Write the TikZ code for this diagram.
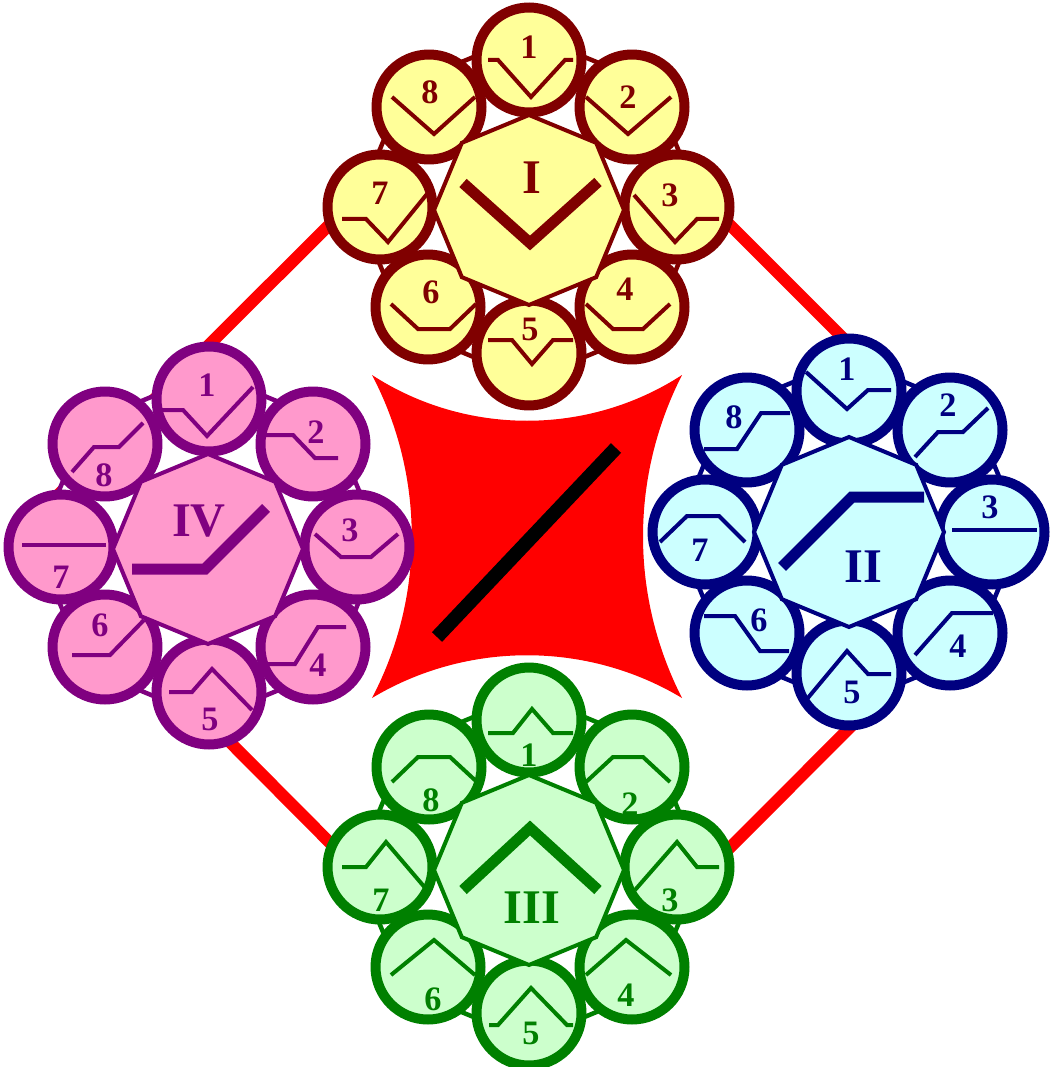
\documentclass[tikz,border=0pt]{standalone}
\usepackage{fontspec}
\setmainfont{Liberation Serif}
\usetikzlibrary{shapes.geometric}

\begin{document}
\begin{tikzpicture}[
    x=0.02cm, y=-0.02cm, % one unit is one pixel, y runs downwards
    % --- colours of the four quadrants ---
    iDark/.style={color={rgb,255:red,128;green,0;blue,0}},
    iLight/.style={fill={rgb,255:red,255;green,255;blue,153}},
    iiDark/.style={color={rgb,255:red,0;green,0;blue,128}},
    iiLight/.style={fill={rgb,255:red,204;green,255;blue,255}},
    iiiDark/.style={color={rgb,255:red,0;green,128;blue,0}},
    iiiLight/.style={fill={rgb,255:red,204;green,255;blue,204}},
    ivDark/.style={color={rgb,255:red,128;green,0;blue,128}},
    ivLight/.style={fill={rgb,255:red,255;green,153;blue,204}},
    % --- shapes ---
    outerRing/.style={draw, fill=white, shape=regular polygon, regular polygon sides=8, shape border rotate=22.5, minimum size=6.92cm, inner sep=0pt, line width=0.09cm},
    hub/.style={draw, shape=regular polygon, regular polygon sides=8, shape border rotate=22.5, minimum size=3.8cm, inner sep=0pt, line width=0.08cm},
    petal/.style={draw, circle, minimum size=2.1cm, inner sep=0pt, line width=0.2cm},
    % --- lines and labels ---
    glyph/.style={line width=0.08cm},
    bigGlyph/.style={line width=0.22cm},
    numLabel/.style={font=\bfseries\fontsize{19.5}{20}\selectfont, inner sep=0pt},
    romanLabel/.style={font=\bfseries\fontsize{27.5}{28}\selectfont, inner sep=0pt},
    redFrame/.style={draw={rgb,255:red,255;green,0;blue,0}, line width=0.24cm}
]
    \useasboundingbox (0,0) rectangle (1060,1067);

    % ===========================
    % 1. BACKGROUND: DIAMOND AND CENTRE TILE
    % ===========================
    \coordinate (dTop)    at (530,25);
    \coordinate (dRight)  at (1041,536);
    \coordinate (dBottom) at (532,1046);
    \coordinate (dLeft)   at (21,532);
    \draw[redFrame] (dTop) -- (dRight) -- (dBottom) -- (dLeft) -- cycle;

    % tile with hollow sides (arcs written as cubic curves)
    \fill[red] (372,375) .. controls (466,436) and (588,436) .. (682,375)
        .. controls (630,477) and (630,596) .. (682,698)
        .. controls (587,641) and (467,641) .. (372,698)
        .. controls (425,597) and (425,476) .. (372,375) -- cycle;
    \draw[black, line width=0.28cm] (437,637) -- (616,448);

    % ===========================
    % 2. QUADRANT I (top)
    % ===========================
    \node[iDark, outerRing] (I-ring) at (529,207) {};
    \node[iDark, iLight, petal] (I-1) at (529,60)  {};
    \node[iDark, iLight, petal] (I-2) at (632,107) {};
    \node[iDark, iLight, petal] (I-3) at (677,207) {};
    \node[iDark, iLight, petal] (I-4) at (632,307) {};
    \node[iDark, iLight, petal] (I-5) at (529,353) {};
    \node[iDark, iLight, petal] (I-6) at (428,307) {};
    \node[iDark, iLight, petal] (I-7) at (380,207) {};
    \node[iDark, iLight, petal] (I-8) at (429,107) {};
    \node[iDark, iLight, hub]   (I)   at (529,210) {};

    \draw[iDark, glyph, shift={(I-1.center)}] (-41,0) -- (-31,0) -- (2,37) -- (36,0) -- (44,0) (0,-13) node[numLabel] (I-1n) {1};
    \draw[iDark, glyph, shift={(I-2.center)}] (-46,-10) -- (-4,27) -- (39,-10) (-4,-10) node[numLabel] (I-2n) {2};
    \draw[iDark, glyph, shift={(I-3.center)}] (-43,-12) -- (-2,35) -- (20,12) -- (42,12) (-7,-12) node[numLabel] (I-3n) {3};
    \draw[iDark, glyph, shift={(I-4.center)}] (-46,-3) -- (-19,22) -- (11,22) -- (38,-3) (-7,-18) node[numLabel] (I-4n) {4};
    \draw[iDark, glyph, shift={(I-5.center)}] (-41,-13) -- (-17,-13) -- (3,11) -- (24,-13) -- (44,-13) (1,-24) node[numLabel] (I-5n) {5};
    \draw[iDark, glyph, shift={(I-6.center)}] (-37,-3) -- (-10,22) -- (22,22) -- (48,-3) (3,-15) node[numLabel] (I-6n) {6};
    \draw[iDark, glyph, shift={(I-7.center)}] (-38,12) -- (-14,12) -- (8,35) -- (47,-13) (0,-14) node[numLabel] (I-7n) {7};
    \draw[iDark, glyph, shift={(I-8.center)}] (-37,-10) -- (5,27) -- (46,-10) (1,-15) node[numLabel] (I-8n) {8};
    \draw[iDark, bigGlyph, shift={(I.center)}] (-66,-27) -- (1,33) -- (69,-28) (3,-32) node[romanLabel] (I-lbl) {I};

    % ===========================
    % 3. QUADRANT II (right)
    % ===========================
    \node[iiDark, outerRing] (II-ring) at (849,532) {};
    \node[iiDark, iiLight, petal] (II-1) at (849,391) {};
    \node[iiDark, iiLight, petal] (II-2) at (950,430) {};
    \node[iiDark, iiLight, petal] (II-3) at (992,532) {};
    \node[iiDark, iiLight, petal] (II-4) at (950,633) {};
    \node[iiDark, iiLight, petal] (II-5) at (849,673) {};
    \node[iiDark, iiLight, petal] (II-6) at (747,633) {};
    \node[iiDark, iiLight, petal] (II-7) at (705,532) {};
    \node[iiDark, iiLight, petal] (II-8) at (747,430) {};
    \node[iiDark, iiLight, hub]   (II)   at (849,532) {};

    \draw[iiDark, glyph, shift={(II-1.center)}] (-43,-19) -- (-2,18) -- (19,-1) -- (42,-1) (-2,-22) node[numLabel] (II-1n) {1};
    \draw[iiDark, glyph, shift={(II-2.center)}] (-35,27) -- (-12,2) -- (13,2) -- (38,-22) (-2,-25) node[numLabel] (II-2n) {2};
    \draw[iiDark, glyph, shift={(II-3.center)}] (-40,-2) -- (45,-2) (-2,-25) node[numLabel] (II-3n) {3};
    \draw[iiDark, glyph, shift={(II-4.center)}] (-35,22) -- (2,-20) -- (43,-20) (8,13) node[numLabel] (II-4n) {4};
    \draw[iiDark, glyph, shift={(II-5.center)}] (-42,26) -- (-2,-22) -- (19,1) -- (42,1) (3,19) node[numLabel] (II-5n) {5};
    \draw[iiDark, glyph, shift={(II-6.center)}] (-43,-17) -- (-12,-17) -- (13,18) -- (42,18) (12,-13) node[numLabel] (II-6n) {6};
    \draw[iiDark, glyph, shift={(II-7.center)}] (-45,10) -- (-18,-16) -- (14,-16) -- (40,10) (-5,18) node[numLabel] (II-7n) {7};
    \draw[iiDark, glyph, shift={(II-8.center)}] (-43,19) -- (-10,19) -- (14,-17) -- (43,-17) (-13,-13) node[numLabel] (II-8n) {8};
    \draw[iiDark, bigGlyph, shift={(II.center)}] (-67,35) -- (3,-35) -- (75,-35) (14,35) node[romanLabel] (II-lbl) {II};

    % ===========================
    % 4. QUADRANT III (bottom)
    % ===========================
    \node[iiiDark, outerRing] (III-ring) at (529,867) {};
    \node[iiiDark, iiiLight, petal] (III-1) at (529,720)  {};
    \node[iiiDark, iiiLight, petal] (III-2) at (632,767)  {};
    \node[iiiDark, iiiLight, petal] (III-3) at (677,867)  {};
    \node[iiiDark, iiiLight, petal] (III-4) at (632,967)  {};
    \node[iiiDark, iiiLight, petal] (III-5) at (529,1013) {};
    \node[iiiDark, iiiLight, petal] (III-6) at (428,967)  {};
    \node[iiiDark, iiiLight, petal] (III-7) at (380,867)  {};
    \node[iiiDark, iiiLight, petal] (III-8) at (429,767)  {};
    \node[iiiDark, iiiLight, hub]   (III)   at (529,870)  {};

    \draw[iiiDark, glyph, shift={(III-1.center)}] (-41,13) -- (-16,13) -- (3,-11) -- (24,13) -- (44,13) (0,35) node[numLabel] (III-1n) {1};
    \draw[iiiDark, glyph, shift={(III-2.center)}] (-46,15) -- (-19,-10) -- (11,-10) -- (38,15) (-2,37) node[numLabel] (III-2n) {2};
    \draw[iiiDark, glyph, shift={(III-3.center)}] (-42,23) -- (0,-25) -- (20,0) -- (42,0) (-7,33) node[numLabel] (III-3n) {3};
    \draw[iiiDark, glyph, shift={(III-4.center)}] (-46,8) -- (-6,-27) -- (39,8) (-6,28) node[numLabel] (III-4n) {4};
    \draw[iiiDark, glyph, shift={(III-5.center)}] (-40,12) -- (-31,12) -- (2,-25) -- (38,12) -- (44,12) (2,20) node[numLabel] (III-5n) {5};
    \draw[iiiDark, glyph, shift={(III-6.center)}] (-37,8) -- (6,-27) -- (47,8) (5,32) node[numLabel] (III-6n) {6};
    \draw[iiiDark, glyph, shift={(III-7.center)}] (-38,0) -- (-14,0) -- (6,-25) -- (47,23) (1,33) node[numLabel] (III-7n) {7};
    \draw[iiiDark, glyph, shift={(III-8.center)}] (-37,15) -- (-11,-10) -- (21,-10) -- (48,15) (2,33) node[numLabel] (III-8n) {8};
    \draw[iiiDark, bigGlyph, shift={(III.center)}] (-66,20) -- (1,-42) -- (69,20) (3,38) node[romanLabel] (III-lbl) {III};

    % ===========================
    % 5. QUADRANT IV (left)
    % ===========================
    \node[ivDark, outerRing] (IV-ring) at (209,546) {};
    \node[ivDark, ivLight, petal] (IV-1) at (209,399) {};
    \node[ivDark, ivLight, petal] (IV-2) at (313,444) {};
    \node[ivDark, ivLight, petal] (IV-3) at (357,547) {};
    \node[ivDark, ivLight, petal] (IV-4) at (313,647) {};
    \node[ivDark, ivLight, petal] (IV-5) at (209,692) {};
    \node[ivDark, ivLight, petal] (IV-6) at (105,647) {};
    \node[ivDark, ivLight, petal] (IV-7) at (61,547)  {};
    \node[ivDark, ivLight, petal] (IV-8) at (105,444) {};
    \node[ivDark, ivLight, hub]   (IV)   at (208,549) {};

    \draw[ivDark, glyph, shift={(IV-1.center)}] (-49,11) -- (-26,11) -- (-2,37) -- (44,-12) (-2,-14) node[numLabel] (IV-1n) {1};
    \draw[ivDark, glyph, shift={(IV-2.center)}] (-47,-9) -- (-20,-9) -- (2,14) -- (25,14) (3,-12) node[numLabel] (IV-2n) {2};
    \draw[ivDark, glyph, shift={(IV-3.center)}] (-42,-13) -- (-16,10) -- (14,10) -- (41,-13) (-7,-17) node[numLabel] (IV-3n) {3};
    \draw[ivDark, glyph, shift={(IV-4.center)}] (-50,17) -- (-18,17) -- (5,-20) -- (33,-20) (5,18) node[numLabel] (IV-4n) {4};
    \draw[ivDark, glyph, shift={(IV-5.center)}] (-40,0) -- (-17,0) -- (3,-23) -- (43,18) (1,27) node[numLabel] (IV-5n) {5};
    \draw[ivDark, glyph, shift={(IV-6.center)}] (-33,8) -- (5,8) -- (39,-27) (-5,-22) node[numLabel] (IV-6n) {6};
    \draw[ivDark, glyph, shift={(IV-7.center)}] (-39,-2) -- (45,-2) (0,30) node[numLabel] (IV-7n) {7};
    \draw[ivDark, glyph, shift={(IV-8.center)}] (-33,28) -- (-11,3) -- (14,3) -- (38,-21) (-1,31) node[numLabel] (IV-8n) {8};
    \draw[ivDark, bigGlyph, shift={(IV.center)}] (-76,20) -- (-3,20) -- (58,-41) (-9,-28) node[romanLabel] (IV-lbl) {IV};

\end{tikzpicture}
\end{document}
